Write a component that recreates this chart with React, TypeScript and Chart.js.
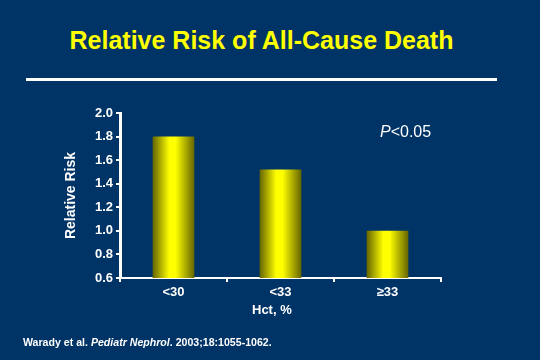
import React, { useEffect, useRef } from "react";
import { Chart, registerables } from "chart.js";

Chart.register(...registerables);

const categories = ["<30", "<33", "\u226533"];
const relativeRisk = [1.8, 1.52, 1.0];
const yTicks = [0.6, 0.8, 1.0, 1.2, 1.4, 1.6, 1.8, 2.0];

const BG = "#003366";
const FONT = "'Liberation Sans', Arial, sans-serif";

export default function App() {
  const ref = useRef<HTMLCanvasElement | null>(null);

  useEffect(() => {
    document.body.style.margin = "0";
    const canvas = ref.current;
    if (!canvas) return;
    const barPct = 0.39;
    const chart = new Chart(canvas, {
      type: "bar",
      data: {
        labels: categories,
        datasets: [
          {
            data: relativeRisk,
            categoryPercentage: 1,
            barPercentage: barPct,
            backgroundColor: (ctx: any) => {
              const c = ctx.chart;
              const xs = c.scales?.x;
              if (!c.chartArea || !xs || ctx.dataIndex === undefined) return "#ffff00";
              const px = xs.getPixelForValue(ctx.dataIndex);
              const catW = (xs.right - xs.left) / categories.length;
              const w = catW * barPct;
              const g = c.ctx.createLinearGradient(px - w / 2, 0, px + w / 2, 0);
              g.addColorStop(0, "#646400");
              g.addColorStop(0.4, "#ffff00");
              g.addColorStop(0.55, "#ffff00");
              g.addColorStop(1, "#646400");
              return g;
            },
            borderWidth: 0,
          },
        ],
      },
      options: {
        responsive: false,
        animation: false,
        layout: { padding: { left: 60, right: 99, top: 113, bottom: 37 } },
        plugins: {
          legend: { display: false },
          tooltip: { enabled: false },
          title: { display: false },
        },
        scales: {
          x: {
            afterFit: (s: any) => {
              s.height = 45;
            },
            grid: {
              display: true,
              drawOnChartArea: false,
              drawTicks: true,
              tickLength: 4,
              color: "#ffffff",
              lineWidth: 2,
              offset: true,
            },
            border: { display: true, color: "#ffffff", width: 2 },
            ticks: {
              color: "#ffffff",
              font: { family: FONT, size: 13, weight: "bold" },
              padding: 3,
              maxRotation: 0,
            },
            title: { display: false },
          },
          y: {
            min: 0.6,
            max: 2.0,
            afterFit: (s: any) => {
              s.width = 60;
            },
            afterBuildTicks: (s: any) => {
              s.ticks = yTicks.map((v) => ({ value: v }));
            },
            grid: {
              display: true,
              drawOnChartArea: false,
              drawTicks: true,
              tickLength: 4,
              color: "#ffffff",
              lineWidth: 2,
            },
            border: { display: true, color: "#ffffff", width: 3 },
            ticks: {
              color: "#ffffff",
              font: { family: FONT, size: 13, weight: "bold" },
              padding: 3,
              callback: (v: any) => Number(v).toFixed(1),
            },
            title: {
              display: true,
              text: "Relative Risk",
              color: "#ffffff",
              font: { family: FONT, size: 14, weight: "bold" },
              padding: 3,
            },
          },
        },
      },
    } as any);
    return () => chart.destroy();
  }, []);

  return (
    <div
      style={{
        position: "fixed",
        left: 0,
        top: 0,
        width: 540,
        height: 360,
        background: BG,
        overflow: "hidden",
        fontFamily: FONT,
      }}
    >
      <div
        style={{
          position: "absolute",
          left: 0,
          width: 523,
          top: 28,
          textAlign: "center",
          color: "#ffff00",
          fontWeight: "bold",
          fontSize: 25,
          lineHeight: "25px",
          whiteSpace: "nowrap",
        }}
      >
        Relative Risk of All-Cause Death
      </div>
      <div
        style={{
          position: "absolute",
          left: 26,
          top: 78,
          width: 471,
          height: 3,
          background: "#ffffff",
        }}
      />
      <canvas
        ref={ref}
        width={540}
        height={360}
        style={{ position: "absolute", left: 0, top: 0, width: 540, height: 360 }}
      />
      <div
        style={{
          position: "absolute",
          left: 380,
          top: 124,
          color: "#ffffff",
          fontSize: 16,
          lineHeight: "16px",
          whiteSpace: "nowrap",
        }}
      >
        <i>P</i>&lt;0.05
      </div>
      <div
        style={{
          position: "absolute",
          left: 252,
          top: 303,
          color: "#ffffff",
          fontSize: 13,
          fontWeight: "bold",
          lineHeight: "13px",
          whiteSpace: "pre",
        }}
      >
        {"Hct, %"}
      </div>
      <div
        style={{
          position: "absolute",
          left: 23,
          top: 337,
          color: "#ffffff",
          fontSize: 10.6,
          fontWeight: "bold",
          lineHeight: "11px",
          whiteSpace: "nowrap",
        }}
      >
        Warady et al. <i>Pediatr Nephrol</i>. 2003;18:1055-1062.
      </div>
    </div>
  );
}
